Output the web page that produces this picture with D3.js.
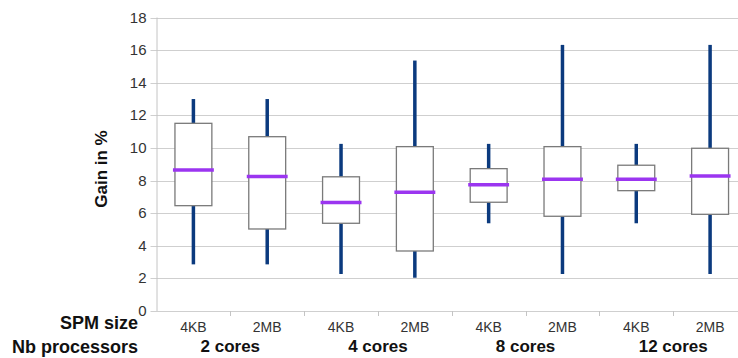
<!DOCTYPE html>
<html>
<head>
<meta charset="utf-8">
<script src="https://cdn.jsdelivr.net/npm/d3@7"></script>
<style>
  body { margin: 0; background: #fff; }
  svg { display: block; font-family: "Liberation Sans", Arial, sans-serif; }
  .grid line { stroke: #cfcfcf; }
  .tick-label { fill: #333; font-size: 15px; }
  .cat-label { fill: #333; font-size: 14px; }
  .bold { font-weight: bold; fill: #111; }
</style>
</head>
<body>
<div id="chart"></div>
<script>
// data
const groups = ["2 cores", "4 cores", "8 cores", "12 cores"];
const sizes = ["4KB", "2MB"];
const whiskerLow  = [2.86, 2.86, 2.27, 2.04, 5.38, 2.27, 5.38, 2.27];
const q1          = [6.46, 5.03, 5.38, 3.68, 6.67, 5.81, 7.38, 5.93];
const median      = [8.65, 8.25, 6.65, 7.28, 7.75, 8.08, 8.08, 8.28];
const q3          = [11.51, 10.69, 8.23, 10.08, 8.73, 10.08, 8.94, 9.98];
const whiskerHigh = [13.0, 13.0, 10.25, 15.36, 10.25, 16.32, 10.25, 16.32];
const yTicks = [0, 2, 4, 6, 8, 10, 12, 14, 16, 18];

const width = 738, height = 358;
const margin = { top: 17.5, right: -9, bottom: 47, left: 156.5 };

const svg = d3.select("#chart").append("svg")
  .attr("width", width)
  .attr("height", height);

const boxes = [];
groups.forEach((g, gi) => {
  sizes.forEach((s, si) => {
    const i = gi * sizes.length + si;
    boxes.push({
      id: i, group: g, size: s,
      lo: whiskerLow[i], q1: q1[i], med: median[i], q3: q3[i], hi: whiskerHigh[i]
    });
  });
});

const x = d3.scaleBand()
  .domain(boxes.map(d => d.id))
  .range([margin.left, width - margin.right])
  .padding(0);

const y = d3.scaleLinear()
  .domain([0, 18])
  .range([height - margin.bottom, margin.top]);

// horizontal grid + left ticks
const grid = svg.append("g").attr("class", "grid");
grid.selectAll("line")
  .data(yTicks)
  .enter()
  .append("line")
  .attr("x1", margin.left - 6)
  .attr("x2", width)
  .attr("y1", d => Math.round(y(d)) + 0.5)
  .attr("y2", d => Math.round(y(d)) + 0.5);

svg.append("g")
  .selectAll("text")
  .data(yTicks)
  .enter()
  .append("text")
  .attr("class", "tick-label")
  .attr("x", margin.left - 10)
  .attr("y", d => y(d) + 5)
  .attr("text-anchor", "end")
  .text(d => d);

// left axis line
svg.append("line")
  .attr("x1", margin.left + 0.5).attr("x2", margin.left + 0.5)
  .attr("y1", y(18)).attr("y2", y(0))
  .attr("stroke", "#c4c4c4");

// category ticks on the bottom
svg.append("g")
  .selectAll("line")
  .data(boxes.slice(1))
  .enter()
  .append("line")
  .attr("x1", d => Math.round(x(d.id)) + 0.5)
  .attr("x2", d => Math.round(x(d.id)) + 0.5)
  .attr("y1", y(0))
  .attr("y2", y(0) + 5)
  .attr("stroke", "#c4c4c4");

const bw = x.bandwidth() * 0.5;

const box = svg.append("g")
  .selectAll("g")
  .data(boxes)
  .enter()
  .append("g")
  .attr("transform", d => "translate(" + (x(d.id) + x.bandwidth() / 2) + ",0)");

// whiskers
box.append("line")
  .attr("y1", d => y(d.hi)).attr("y2", d => y(d.q3))
  .attr("stroke", "#0b3a7e").attr("stroke-width", 3.5);
box.append("line")
  .attr("y1", d => y(d.q1)).attr("y2", d => y(d.lo))
  .attr("stroke", "#0b3a7e").attr("stroke-width", 3.5);

box.append("rect")
  .attr("x", -bw / 2)
  .attr("width", bw)
  .attr("y", d => y(d.q3))
  .attr("height", d => y(d.q1) - y(d.q3))
  .attr("fill", "#fff")
  .attr("stroke", "#7a7a7a")
  .attr("stroke-width", 1.3);

box.append("line")
  .attr("x1", -bw / 2 - 2).attr("x2", bw / 2 + 2)
  .attr("y1", d => y(d.med)).attr("y2", d => y(d.med))
  .attr("stroke", "#9b35f0").attr("stroke-width", 3.5);

// size labels
box.append("text")
  .attr("class", "cat-label")
  .attr("y", y(0) + 21)
  .attr("text-anchor", "middle")
  .text(d => d.size);

// group labels
svg.append("g")
  .selectAll("text")
  .data(groups)
  .enter()
  .append("text")
  .attr("class", "bold")
  .attr("font-size", 17)
  .attr("x", (d, gi) => (x(gi * 2) + x(gi * 2 + 1) + x.bandwidth()) / 2)
  .attr("y", height - 6)
  .attr("text-anchor", "middle")
  .text(d => d);

svg.append("text")
  .attr("class", "bold")
  .attr("font-size", 18)
  .attr("x", 138).attr("y", 329)
  .attr("text-anchor", "end")
  .text("SPM size");

svg.append("text")
  .attr("class", "bold")
  .attr("font-size", 18)
  .attr("x", 138).attr("y", 353)
  .attr("text-anchor", "end")
  .text("Nb processors");

svg.append("text")
  .attr("class", "bold")
  .attr("font-size", 17)
  .attr("transform", "translate(107," + 169 + ") rotate(-90)")
  .attr("text-anchor", "middle")
  .text("Gain in %");
</script>
</body>
</html>
